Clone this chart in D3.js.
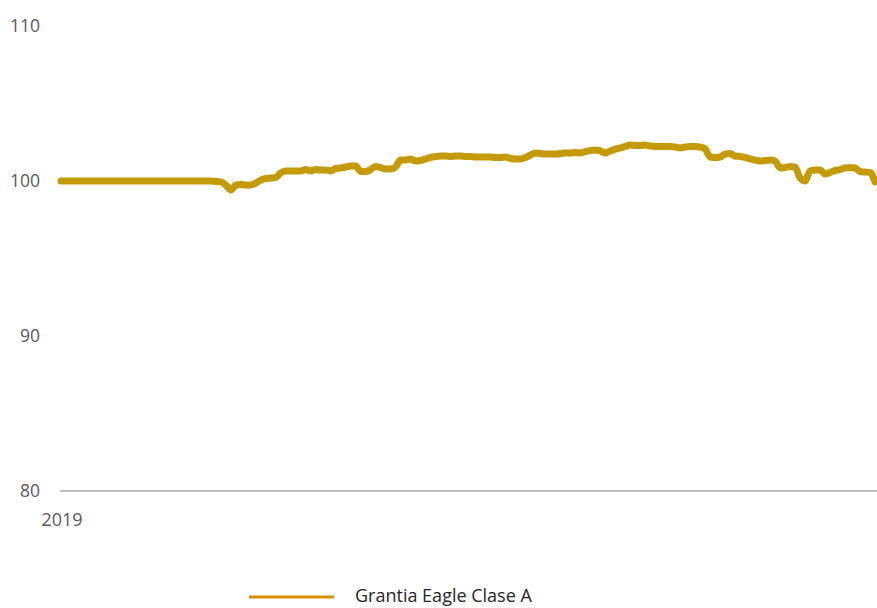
<!DOCTYPE html>
<html>
<head>
<meta charset="utf-8">
<script src="https://cdn.jsdelivr.net/npm/d3@7"></script>
<style>
  body { margin: 0; background: #fff; }
  svg { display: block; font-family: "Open Sans", "Liberation Sans", sans-serif; }
</style>
</head>
<body>
<svg id="chart"></svg>
<script>
// index base 100, one reading per period
const seriesName = "Grantia Eagle Clase A";
const values = [
  100.00, 100.00, 100.00, 100.00, 100.00, 100.00, 100.00, 100.00, 100.00, 100.00,
  100.00, 100.00, 100.00, 100.00, 100.00, 100.00, 100.00, 100.00, 100.00, 100.00,
  100.00, 100.00, 100.00, 100.00, 100.00, 100.00, 100.00, 100.00, 100.00, 100.00,
  100.00, 99.97, 99.94, 99.74, 99.42, 99.74, 99.77, 99.74, 99.74, 99.87,
  100.06, 100.16, 100.19, 100.23, 100.52, 100.65, 100.65, 100.65, 100.65, 100.74,
  100.65, 100.74, 100.71, 100.71, 100.65, 100.81, 100.84, 100.90, 100.97, 100.97,
  100.61, 100.61, 100.74, 100.94, 100.87, 100.77, 100.77, 100.90, 101.35, 101.35,
  101.42, 101.29, 101.32, 101.42, 101.52, 101.58, 101.61, 101.61, 101.58, 101.61,
  101.61, 101.58, 101.58, 101.55, 101.55, 101.55, 101.55, 101.52, 101.52, 101.55,
  101.45, 101.42, 101.42, 101.52, 101.68, 101.81, 101.77, 101.74, 101.74, 101.74,
  101.77, 101.81, 101.81, 101.84, 101.81, 101.90, 101.97, 102.00, 101.94, 101.81,
  101.94, 102.06, 102.13, 102.23, 102.32, 102.29, 102.29, 102.32, 102.26, 102.23,
  102.23, 102.23, 102.23, 102.19, 102.13, 102.19, 102.23, 102.23, 102.19, 102.06,
  101.55, 101.52, 101.55, 101.74, 101.77, 101.61, 101.58, 101.52, 101.42, 101.35,
  101.29, 101.32, 101.35, 101.29, 100.84, 100.87, 100.94, 100.90, 100.19, 100.00,
  100.65, 100.71, 100.71, 100.45, 100.55, 100.68, 100.74, 100.84, 100.87, 100.84,
  100.61, 100.58, 100.55, 99.94
];
const yTicks = [80, 90, 100, 110];
const xTickLabels = [{ i: 0, label: "2019" }];

const width = 877;
const height = 608;
const margin = { top: 26, right: 2, bottom: 117, left: 61 };

const svg = d3.select("#chart").attr("width", width).attr("height", height);

const x = d3.scaleLinear()
  .domain([0, values.length - 1])
  .range([margin.left, width - margin.right]);

const y = d3.scaleLinear()
  .domain([80, 110])
  .range([height - margin.bottom, margin.top]);

// y labels, no gridlines
svg.append("g")
  .selectAll("text")
  .data(yTicks)
  .join("text")
  .attr("x", 40)
  .attr("y", d => y(d))
  .attr("dy", "0.35em")
  .attr("text-anchor", "end")
  .attr("font-size", 17.5)
  .attr("fill", "#595959")
  .text(d => d);

// baseline at 80
svg.append("line")
  .attr("x1", margin.left - 1)
  .attr("x2", width)
  .attr("y1", y(80))
  .attr("y2", y(80))
  .attr("stroke", "#c0c0c0")
  .attr("stroke-width", 2);

svg.append("g")
  .selectAll("text")
  .data(xTickLabels)
  .join("text")
  .attr("x", d => x(d.i) + 1)
  .attr("y", y(80) + 35)
  .attr("text-anchor", "middle")
  .attr("font-size", 18)
  .attr("fill", "#595959")
  .text(d => d.label);

const line = d3.line()
  .x((d, i) => x(i))
  .y(d => y(d))
  .curve(d3.curveMonotoneX);

svg.append("path")
  .datum(values)
  .attr("d", line)
  .attr("fill", "none")
  .attr("stroke", "#c49a06")
  .attr("stroke-width", 7)
  .attr("stroke-linejoin", "round")
  .attr("stroke-linecap", "round");

// legend
const legend = svg.append("g").attr("transform", "translate(249,597)");
legend.append("line")
  .attr("x1", 0).attr("x2", 85)
  .attr("stroke", "#d98f00")
  .attr("stroke-width", 3);
legend.append("text")
  .attr("x", 106)
  .attr("y", 5)
  .attr("font-size", 18)
  .attr("fill", "#262626")
  .text(seriesName);
</script>
</body>
</html>
